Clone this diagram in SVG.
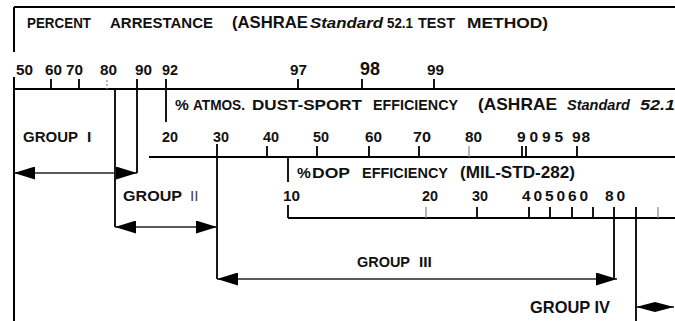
<svg xmlns="http://www.w3.org/2000/svg" width="675" height="321" viewBox="0 0 675 321">
<style>
text{font-family:"Liberation Sans",Arial,sans-serif;font-weight:bold;font-size:15.5px;fill:#111}
.it{font-style:italic}
.ax{stroke:#000;stroke-width:2;fill:none}
.tk{stroke:#000;stroke-width:1.8;fill:none}
.gr{stroke:#888;stroke-width:1.2;fill:none}
.ar{stroke:#222;stroke-width:1.6;fill:none}
</style>
<defs>
<marker id="ah" viewBox="0 0 21 13" refX="21" refY="6.5" markerWidth="21" markerHeight="13" markerUnits="userSpaceOnUse" orient="auto-start-reverse"><path d="M0,0 L21,6.5 L0,13 Z" fill="#000"/></marker>
<marker id="ahs" viewBox="0 0 19 10" refX="19" refY="5" markerWidth="19" markerHeight="10" markerUnits="userSpaceOnUse" orient="auto-start-reverse"><path d="M0,0 L19,5 L0,10 Z" fill="#000"/></marker>
</defs>
<g id="connectors">
<path class="ax" d="M14,7 H675 M14,7 V52"/>
<path class="ax" d="M14,89 H675 M14,77 V321"/>
<path class="tk" d="M51,79 V89 M79,79 V89 M137,79 V89 M166,79 V89 M298,79 V89 M362,79 V89 M434,79 V89"/>
<path class="gr" d="M107,80 V89" stroke-dasharray="2,2"/>
<path class="tk" d="M115,89 V227 M137,89 V173 M166,89 V122"/>
<path class="ax" d="M149,157 H675"/>
<path class="tk" d="M217,144 V279 M267,146 V157 M317,146 V157 M369,146 V157 M419,146 V157 M522,146 V157 M526,146 V157 M577,146 V157"/>
<path class="gr" d="M469,146 V157"/>
<path class="tk" d="M288,157 V182 M288,205 V218"/>
<path class="ax" d="M288,218 H675"/>
<path class="tk" d="M477,207 V218 M529,207 V218 M550,207 V218 M572,207 V218 M593,207 V218 M614,207 V279 M636,207 V321"/>
<path class="gr" d="M426,207 V218 M658,207 V218"/>
<line class="ar" x1="14" y1="173" x2="137" y2="173" marker-start="url(#ah)" marker-end="url(#ah)"/>
<line class="ar" x1="115" y1="227" x2="217" y2="227" marker-start="url(#ah)" marker-end="url(#ah)"/>
<line class="ar" x1="217" y1="279" x2="617" y2="279" marker-start="url(#ah)" marker-end="url(#ah)"/>
<line class="ar" x1="636" y1="307" x2="674" y2="307" marker-start="url(#ahs)" marker-end="url(#ahs)"/>
</g>
<g id="title">
<text x="27" y="28" textLength="64" lengthAdjust="spacingAndGlyphs">PERCENT</text>
<text x="110" y="28" textLength="103" lengthAdjust="spacingAndGlyphs">ARRESTANCE</text>
<text x="232" y="28" textLength="76" lengthAdjust="spacingAndGlyphs" style="font-size:16.5px">(ASHRAE</text>
<text class="it" x="310" y="28" textLength="73" lengthAdjust="spacingAndGlyphs">Standard</text>
<text x="387" y="28" textLength="26" lengthAdjust="spacingAndGlyphs">52.1</text>
<text x="418" y="28" textLength="37" lengthAdjust="spacingAndGlyphs">TEST</text>
<text x="467" y="28" textLength="81" lengthAdjust="spacingAndGlyphs">METHOD)</text>
</g>
<g id="scale1">
<text x="16" y="75" textLength="17" lengthAdjust="spacingAndGlyphs">50</text>
<text x="45" y="75" textLength="17" lengthAdjust="spacingAndGlyphs">60</text>
<text x="66" y="75" textLength="17" lengthAdjust="spacingAndGlyphs">70</text>
<text x="100" y="75" textLength="17" lengthAdjust="spacingAndGlyphs">80</text>
<text x="135" y="75" textLength="17" lengthAdjust="spacingAndGlyphs">90</text>
<text x="162" y="75" textLength="16" lengthAdjust="spacingAndGlyphs">92</text>
<text x="290" y="75" textLength="17" lengthAdjust="spacingAndGlyphs">97</text>
<text x="360" y="75" textLength="20" lengthAdjust="spacingAndGlyphs" style="font-size:18px">98</text>
<text x="427" y="75" textLength="17" lengthAdjust="spacingAndGlyphs">99</text>
</g>
<g id="scale2-title">
<text x="175" y="110">%</text>
<text x="193" y="110" textLength="52" lengthAdjust="spacingAndGlyphs">ATMOS.</text>
<text x="252" y="110" textLength="110" lengthAdjust="spacingAndGlyphs">DUST-SPORT</text>
<text x="373" y="110" textLength="85" lengthAdjust="spacingAndGlyphs">EFFICIENCY</text>
<text x="478" y="110" textLength="79" lengthAdjust="spacingAndGlyphs" style="font-size:17px">(ASHRAE</text>
<text class="it" x="567" y="110" textLength="63" lengthAdjust="spacingAndGlyphs">Standard</text>
<text class="it" x="640" y="110" textLength="35" lengthAdjust="spacingAndGlyphs">52.1</text>
</g>
<g id="scale2">
<text x="162" y="142" textLength="16" lengthAdjust="spacingAndGlyphs">20</text>
<text x="213" y="142" textLength="16" lengthAdjust="spacingAndGlyphs">30</text>
<text x="263" y="142" textLength="16" lengthAdjust="spacingAndGlyphs">40</text>
<text x="313" y="142" textLength="16" lengthAdjust="spacingAndGlyphs">50</text>
<text x="365" y="142" textLength="17" lengthAdjust="spacingAndGlyphs">60</text>
<text x="413" y="142" textLength="18" lengthAdjust="spacingAndGlyphs">70</text>
<text x="465" y="142" textLength="17" lengthAdjust="spacingAndGlyphs">80</text>
<text x="517" y="142" textLength="46">9095</text>
<text x="572" y="142" textLength="18">98</text>
</g>
<g id="scale3-title">
<text x="297" y="178">%</text>
<text x="312" y="178" textLength="38" lengthAdjust="spacingAndGlyphs">DOP</text>
<text x="362" y="178" textLength="86" lengthAdjust="spacingAndGlyphs">EFFICIENCY</text>
<text x="460" y="178" textLength="115" lengthAdjust="spacingAndGlyphs" style="font-size:16.5px">(MIL-STD-282)</text>
</g>
<g id="scale3">
<text x="283" y="201" textLength="17" lengthAdjust="spacingAndGlyphs">10</text>
<text x="422" y="201" textLength="16" lengthAdjust="spacingAndGlyphs">20</text>
<text x="472" y="201" textLength="16" lengthAdjust="spacingAndGlyphs">30</text>
<text x="522" y="201" textLength="66">405060</text>
<text x="605" y="201" textLength="20">80</text>
</g>
<g id="group1"><text x="23" y="142" textLength="55" lengthAdjust="spacingAndGlyphs">GROUP</text><text x="87" y="142" style="font-weight:900">I</text></g>
<g id="group2"><text x="123" y="201" textLength="59" lengthAdjust="spacingAndGlyphs">GROUP</text><text x="190" y="201" style="font-weight:normal;fill:#444">II</text></g>
<g id="group3"><text x="357" y="267" textLength="53" lengthAdjust="spacingAndGlyphs">GROUP</text><text x="419" y="267" style="font-weight:900">III</text></g>
<g id="group4"><text x="530" y="313" textLength="80" lengthAdjust="spacingAndGlyphs" style="font-size:16.5px">GROUP IV</text></g>
</svg>
